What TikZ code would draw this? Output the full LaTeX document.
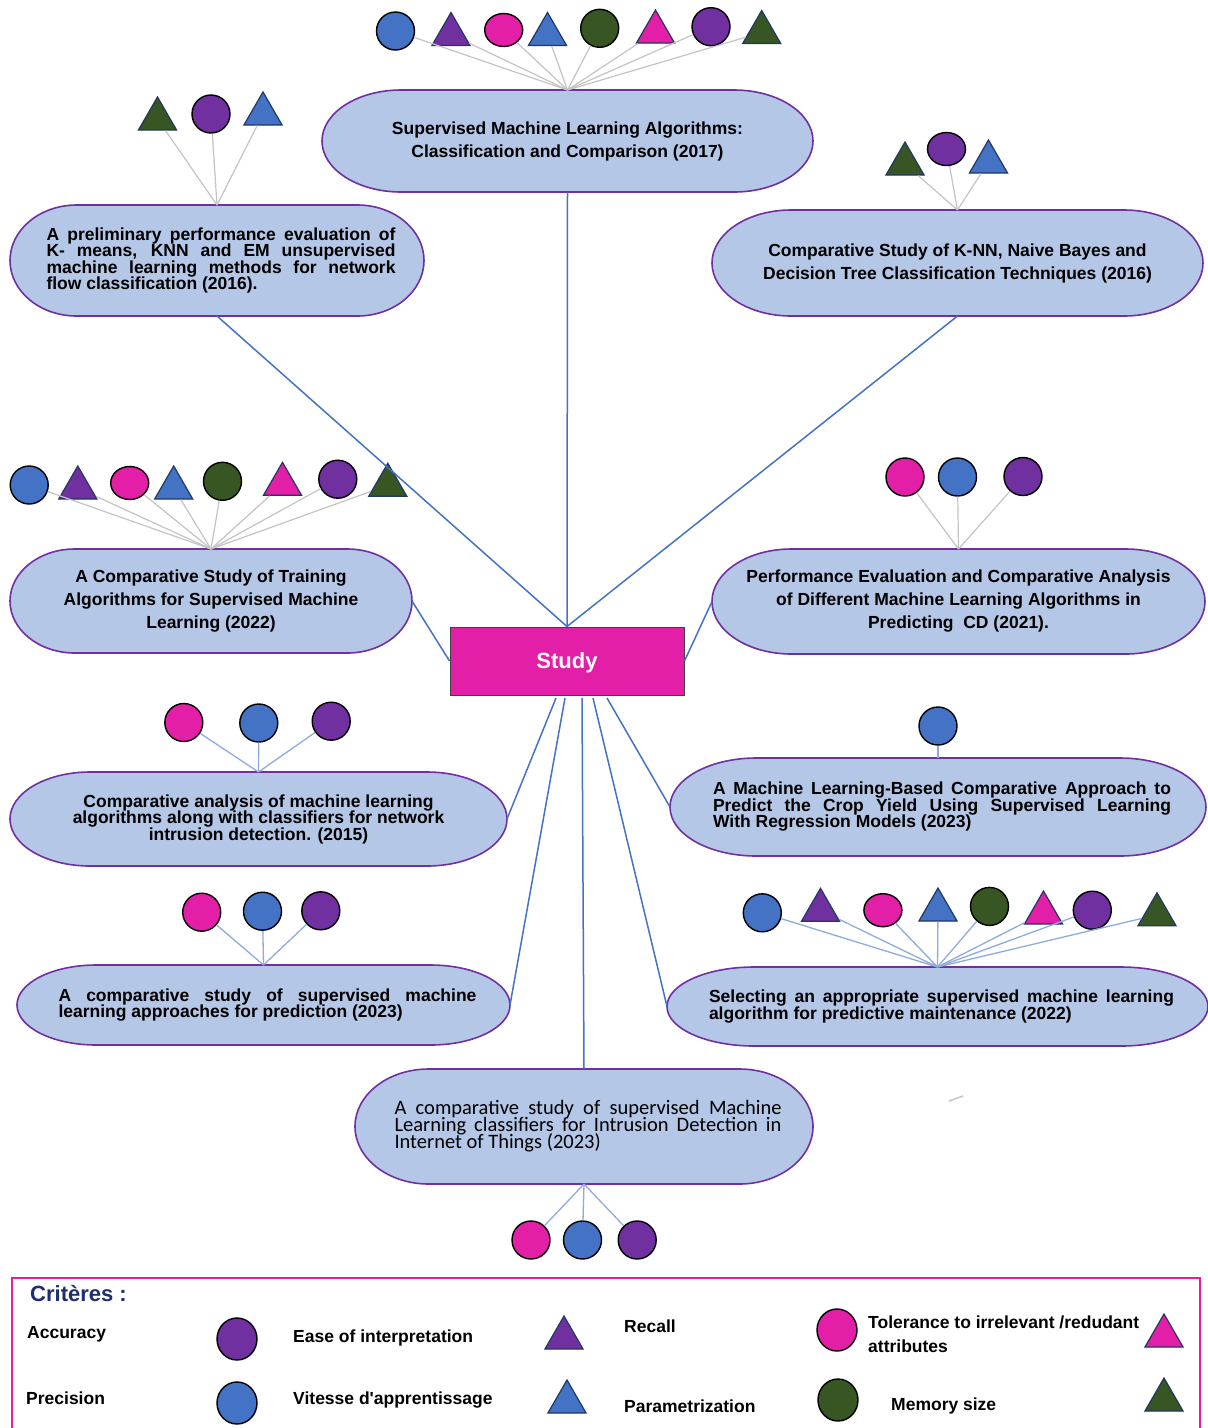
\documentclass[tikz,border=0pt]{standalone}
\usepackage{fontspec}
\setmainfont{Liberation Sans}
\newfontfamily\calibrifont{Carlito}
\usetikzlibrary{shapes.geometric,backgrounds,calc}

\definecolor{mkblue}{HTML}{4472C4}
\definecolor{mkpurple}{HTML}{7030A0}
\definecolor{mkmag}{HTML}{E21FA6}
\definecolor{mkgreen}{HTML}{375623}
\definecolor{paperfill}{HTML}{B4C7E7}
\definecolor{paperedge}{HTML}{7030A0}
\definecolor{triedge}{HTML}{1F3864}
\definecolor{linkblue}{HTML}{4472C4}
\definecolor{leafgrey}{HTML}{C4C4C4}
\definecolor{leafblue}{HTML}{8FAADC}
\definecolor{navytitle}{HTML}{1F2E6E}
\definecolor{studyedge}{HTML}{404040}

% text settings for the paper boxes
\newcommand\loosefont{\fontsize{17.5}{23}\selectfont\bfseries}
\newcommand\tightfont{\fontsize{17.5}{16.5}\selectfont\bfseries\lineskiplimit=-50pt\lineskip=0pt\relax}
\newcommand\iotfont{\calibrifont\fontsize{20.5}{17}\selectfont\lineskiplimit=-50pt\lineskip=0pt\relax}
\newcommand\legfont{\fontsize{17.5}{24}\selectfont\bfseries}
% justified block, set slightly right of the box centre, lines packed tightly
\newcommand\justblock[2]{\hspace*{8pt}\begin{minipage}{#1pt}\lineskiplimit=-50pt\lineskip=0pt\relax #2\end{minipage}}

\begin{document}
\begin{tikzpicture}[x=1pt,y=-1pt,
  paper/.style={shape=rectangle, inner sep=0pt, outer sep=0pt},
  paperline/.style={draw=paperedge, fill=paperfill, line width=1.6pt},
  mcirc/.style={ellipse, draw=black, line width=1.4pt, minimum width=38pt, minimum height=38pt, inner sep=0pt},
  mflat/.style={mcirc, minimum height=33pt},
  mtri/.style={regular polygon, regular polygon sides=3, draw=triedge, line width=1.2pt, minimum size=44pt, inner sep=0pt},
  greyleaf/.style={draw=leafgrey, line width=1.2pt},
  blueleaf/.style={draw=leafblue, line width=1.3pt},
  link/.style={draw=linkblue, line width=1.5pt},
  studybox/.style={draw=studyedge, line width=1pt, fill=mkmag, minimum width=234pt, minimum height=68pt, inner sep=0pt, text depth=0pt, text=white, font=\fontsize{22}{26}\selectfont\bfseries},
  legtext/.style={anchor=west, inner sep=0pt, font=\legfont, align=left},
  legcirc/.style={mcirc, minimum width=40pt, minimum height=42pt}
]
\useasboundingbox (0,0) rectangle (1208,1428);

% ---------- paper boxes ----------
\node[paper, minimum width=491, minimum height=102, align=center, font=\loosefont] (top) at (567.5,141)
  {Supervised Machine Learning Algorithms:\\Classification and Comparison (2017)};
\node[paper, minimum width=414, minimum height=111, font=\tightfont] (prelim) at (217,260.5)
  {\justblock{349}{A preliminary performance evaluation of\linebreak K- means, KNN and EM unsupervised\linebreak machine learning methods for network\linebreak flow classification (2016).}};
\node[paper, minimum width=491, minimum height=106, align=center, font=\loosefont] (knn) at (957.5,263)
  {Comparative Study of K-NN, Naive Bayes and\\Decision Tree Classification Techniques (2016)};
\node[paper, minimum width=402, minimum height=104, align=center, font=\loosefont] (training) at (211,601)
  {A Comparative Study of Training\\Algorithms for Supervised Machine\\Learning (2022)};
\node[paper, minimum width=493, minimum height=105, align=center, font=\loosefont] (perfcd) at (958.5,601.5)
  {Performance Evaluation and Comparative Analysis\\of Different Machine Learning Algorithms in\\Predicting\ \ CD (2021).};
\node[paper, minimum width=497, minimum height=94, align=center, font=\tightfont] (netintr) at (258.5,819)
  {Comparative analysis of machine learning\\algorithms along with classifiers for network\\intrusion detection. (2015)};
\node[paper, minimum width=536, minimum height=98, font=\tightfont] (crop) at (938,807)
  {\justblock{458}{A Machine Learning-Based Comparative Approach to\linebreak Predict the Crop Yield Using Supervised Learning\linebreak With Regression Models (2023)}};
\node[paper, minimum width=493, minimum height=80, font=\tightfont] (predict) at (263.5,1005)
  {\justblock{418}{A comparative study of supervised machine\linebreak learning approaches for prediction (2023)}};
\node[paper, minimum width=541, minimum height=79, font=\tightfont] (maint) at (937.5,1006.5)
  {\justblock{465}{Selecting an appropriate supervised machine learning\linebreak algorithm for predictive maintenance (2022)}};
\node[paper, minimum width=458, minimum height=115, font=\iotfont] (iot) at (584,1126.5)
  {\justblock{387}{A comparative study of supervised Machine\linebreak Learning classifiers for Intrusion Detection in\linebreak Internet of Things (2023)}};

% white page and terminator outlines behind the texts
\begin{scope}[on background layer]
\fill[white] (0,0) rectangle (1208,1428);
\foreach \nm in {top,prelim,knn,training,perfcd,netintr,crop,predict,maint,iot}
  \draw[paperline] let \p1=(\nm.north west), \p2=(\nm.south east),
      \n1={0.161*(\x2-\x1)}, \n2={(\y1-\y2)/2} in
    (\x1+\n1,\y1) -- (\x2-\n1,\y1)
    arc[start angle=90, end angle=-90, x radius=\n1, y radius=\n2]
    -- (\x1+\n1,\y2)
    arc[start angle=270, end angle=90, x radius=\n1, y radius=\n2] -- cycle;
\end{scope}

% ---------- criteria markers ----------
\foreach \nm/\sh/\col/\x/\y in {
  a1/mcirc/mkblue/395.5/31, a2/mtri/mkpurple/451/34.5, a3/mflat/mkmag/503.7/30, a4/mtri/mkblue/547.5/34.5,
  a5/mcirc/mkgreen/599.7/28.3, a6/mtri/mkmag/655.5/32, a7/mcirc/mkpurple/711/26.7, a8/mtri/mkgreen/761.7/32.5,
  b1/mtri/mkgreen/157.5/119, b2/mcirc/mkpurple/211/114, b3/mtri/mkblue/263/114,
  c1/mtri/mkgreen/905/164, c2/mflat/mkpurple/946.5/149, c3/mtri/mkblue/988.5/162,
  d1/mcirc/mkblue/29.2/485, d2/mtri/mkpurple/77.8/488, d3/mflat/mkmag/129.7/483, d4/mtri/mkblue/173.7/488,
  d5/mcirc/mkgreen/222.5/481.3, d6/mtri/mkmag/282.5/484.3, d7/mcirc/mkpurple/337.8/479.2, d8/mtri/mkgreen/387.8/485.3,
  e1/mcirc/mkmag/905/477, e2/mcirc/mkblue/957.5/477, e3/mcirc/mkpurple/1023/476.5,
  f1/mcirc/mkmag/183.8/722.5, f2/mcirc/mkblue/258.8/723, f3/mcirc/mkpurple/331.2/721.2,
  g1/mcirc/mkblue/938/726,
  h1/mcirc/mkmag/201.7/912.2, h2/mcirc/mkblue/262.5/911.2, h3/mcirc/mkpurple/320.8/910.8,
  i1/mcirc/mkblue/762.3/912.8, i2/mtri/mkpurple/820.5/910.3, i3/mflat/mkmag/882.9/910.2, i4/mtri/mkblue/938/910,
  i5/mcirc/mkgreen/989.5/906.4, i6/mtri/mkmag/1043.5/913, i7/mcirc/mkpurple/1092.3/910.2, i8/mtri/mkgreen/1157/914.8,
  j1/mcirc/mkmag/531/1240, j2/mcirc/mkblue/582.5/1240, j3/mcirc/mkpurple/637.2/1240}
  \node[\sh, fill=\col] (\nm) at (\x,\y) {};

% marker spokes
\foreach \nm in {a1,a2,a3,a4,a5,a6,a7,a8} \draw[greyleaf] (\nm) -- (top.north);
\foreach \nm in {b1,b2,b3} \draw[greyleaf] (\nm) -- (prelim.north);
\foreach \nm in {c1,c2,c3} \draw[greyleaf] (\nm) -- (knn.north);
\foreach \nm in {d1,d2,d3,d4,d5,d6,d7,d8} \draw[greyleaf] (\nm) -- (training.north);
\foreach \nm in {e1,e2,e3} \draw[greyleaf] (\nm) -- (perfcd.north);
\foreach \nm in {f1,f2,f3} \draw[blueleaf] (\nm) -- (netintr.north);
\draw[blueleaf] (g1) -- (crop.north);
\foreach \nm in {h1,h2,h3} \draw[blueleaf] (\nm) -- (predict.north);
\foreach \nm in {i1,i2,i3,i4,i5,i6,i7,i8} \draw[blueleaf] (\nm) -- (maint.north);
\foreach \nm in {j1,j2,j3} \draw[blueleaf] (iot.south) -- (\nm);
\draw[greyleaf, line width=1.5pt] (949,1101) -- (963,1096);

% ---------- central node and links ----------
\node[studybox] (study) at (567,661) {Study};
\coordinate (s1) at (556,698);
\coordinate (s2) at (565,698);
\coordinate (s3) at (582,698);
\coordinate (s4) at (593,698);
\coordinate (s5) at (607,698);

\draw[link] (top.south) -- (study.north);
\draw[link] (prelim.south) -- (study.north);
\draw[link] (knn.south) -- (study.north);
\draw[link] (training.east) -- (study.west);
\draw[link] (perfcd.west) -- (study.east);
\draw[link] (s1) -- (netintr.east);
\draw[link] (s2) -- (predict.east);
\draw[link] (s3) -- (iot.north);
\draw[link] (s4) -- (maint.west);
\draw[link] (s5) -- (crop.west);

% ---------- legend ----------
\draw[draw=mkmag, line width=1.5pt] (12,1440) -- (12,1278) -- (1200,1278) -- (1200,1440);
\node[anchor=west, inner sep=0pt, text=navytitle, font=\fontsize{22}{26}\selectfont\bfseries] (lgtitle) at (30,1294) {Critères :};

\node[legtext] (lgacc) at (27,1334) {Accuracy};
\node[legcirc, fill=mkpurple] (lgc1) at (237,1339) {};
\node[legtext] (lgease) at (293,1338) {Ease of interpretation};
\node[mtri, fill=mkpurple] (lgt1) at (564,1338) {};
\node[legtext] (lgrec) at (624,1326) {Recall};
\node[legcirc, fill=mkmag] (lgc2) at (837,1330) {};
\node[legtext] (lgtol) at (868,1334) {Tolerance to irrelevant /redudant\\attributes};
\node[mtri, fill=mkmag] (lgt2) at (1164,1336) {};

\node[legtext] (lgprec) at (26,1398) {Precision};
\node[legcirc, fill=mkblue] (lgc3) at (237,1403) {};
\node[legtext] (lgvit) at (293,1400) {Vitesse d\textquotesingle apprentissage};
\node[mtri, fill=mkblue] (lgt3) at (567,1402) {};
\node[legtext] (lgpar) at (624,1406) {Parametrization};
\node[legcirc, fill=mkgreen] (lgc4) at (838,1400) {};
\node[legtext] (lgmem) at (891,1406) {Memory size};
\node[mtri, fill=mkgreen] (lgt4) at (1164,1400) {};
\end{tikzpicture}
\end{document}
